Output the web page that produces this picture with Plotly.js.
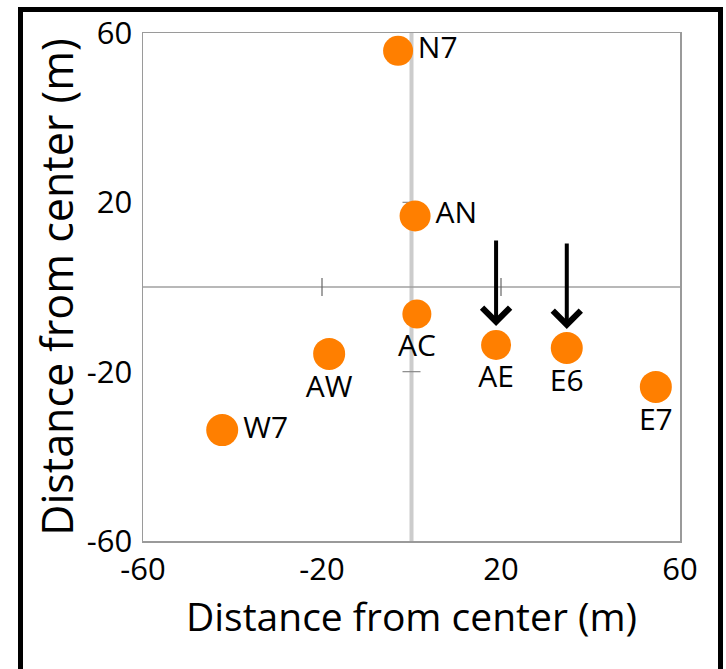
<!DOCTYPE html>
<html>
<head>
<meta charset="utf-8">
<script src="https://cdn.plot.ly/plotly-3.0.1.min.js"></script>
<style>
  html, body { margin: 0; padding: 0; background: #fff; overflow: hidden; }
  #wrap { position: relative; width: 726px; height: 669px; }
  #chart { position: absolute; left: 0; top: 0; width: 726px; height: 669px; }
  #frame { position: absolute; left: 18px; top: 7px; width: 695px; height: 700px;
           border: 5px solid #000; pointer-events: none; }
</style>
</head>
<body>
<div id="wrap">
  <div id="chart"></div>
  <div id="frame"></div>
</div>
<script>
// Plot names and coordinates (m from center)
const siteNames = ["N7", "AN", "AC", "AW", "W7", "AE", "E6", "E7"];
const xValues   = [-3.0, 0.8, 1.2, -18.4, -42.3, 18.9, 34.7, 54.6];
const yValues   = [55.8, 16.8, -6.4, -15.8, -33.8, -13.7, -14.4, -23.6];
const labelPos  = ["middle right", "middle right", "bottom center", "bottom center",
                   "middle right", "bottom center", "bottom center", "bottom center"];
const markerSizes = [30, 31, 29, 32, 32, 30, 32, 32];

// Sites highlighted with arrows
const arrowSites = ["AE", "E6"];

// Axis ticks
const tickValues = [-60, -20, 20, 60];
const tickLabels = ["-60", "-20", "20", "60"];
const crossTicks = [-20, 20];

const FONT = "Open Sans, Noto Sans, sans-serif";

const trace = {
  type: "scatter",
  mode: "markers+text",
  x: xValues,
  y: yValues,
  text: siteNames,
  textposition: labelPos,
  textfont: { family: FONT, size: 30, color: "#000" },
  marker: { color: "#ff7f00", opacity: 1, size: markerSizes, line: { width: 0 } },
  opacity: 1,
  hoverinfo: "skip",
  cliponaxis: false
};

const shapes = [];
// vertical center line (x = 0)
shapes.push({ type: "line", xref: "x", yref: "paper", x0: 0, x1: 0, y0: 0, y1: 1,
  line: { color: "#cccccc", width: 4 }, layer: "below" });
// horizontal center line (y = 0)
shapes.push({ type: "line", xref: "paper", yref: "y", x0: 0, x1: 1, y0: 0, y1: 0,
  line: { color: "#a0a0a0", width: 1.5 }, layer: "below" });
// small ticks on the center lines
crossTicks.forEach(v => {
  shapes.push({ type: "line", xref: "x", yref: "y", x0: v, x1: v,
    ysizemode: "pixel", yanchor: 0, y0: -9, y1: 9,
    line: { color: "#666", width: 1.2 }, layer: "below" });
  shapes.push({ type: "line", xref: "x", yref: "y", y0: v, y1: v,
    xsizemode: "pixel", xanchor: 0, x0: -9, x1: 9,
    line: { color: "#888", width: 1.2 }, layer: "below" });
});

const annotations = arrowSites.map(name => {
  const i = siteNames.indexOf(name);
  return {
    x: xValues[i], y: yValues[i], xref: "x", yref: "y",
    ax: 0, ay: -106, axref: "pixel", ayref: "pixel",
    showarrow: true, arrowhead: 4, arrowsize: 1.35, arrowwidth: 4,
    arrowcolor: "#000", standoff: 19, text: ""
  };
});

const axisCommon = {
  range: [-60, 60],
  tickvals: tickValues,
  ticktext: tickLabels,
  ticks: "",
  showgrid: false,
  zeroline: false,
  showline: true,
  mirror: true,
  linecolor: "#9a9a9a",
  linewidth: 1.5,
  tickfont: { family: FONT, size: 31, color: "#000" },
  fixedrange: true
};

const layout = {
  width: 726,
  height: 669,
  margin: { l: 143, r: 46, t: 33, b: 128 },
  paper_bgcolor: "#ffffff",
  plot_bgcolor: "#ffffff",
  showlegend: false,
  xaxis: Object.assign({}, axisCommon, {
    ticklabelstandoff: 0,
    title: { text: "Distance from center (m)", font: { family: FONT, size: 39, color: "#000" }, standoff: 10 }
  }),
  yaxis: Object.assign({}, axisCommon, {
    ticklabelstandoff: 3,
    title: { text: "Distance from center (m)", font: { family: FONT, size: 43, color: "#000" }, standoff: 0 }
  }),
  shapes: shapes,
  annotations: annotations
};

Plotly.newPlot("chart", [trace], layout, { staticPlot: true, displayModeBar: false });
</script>
</body>
</html>
